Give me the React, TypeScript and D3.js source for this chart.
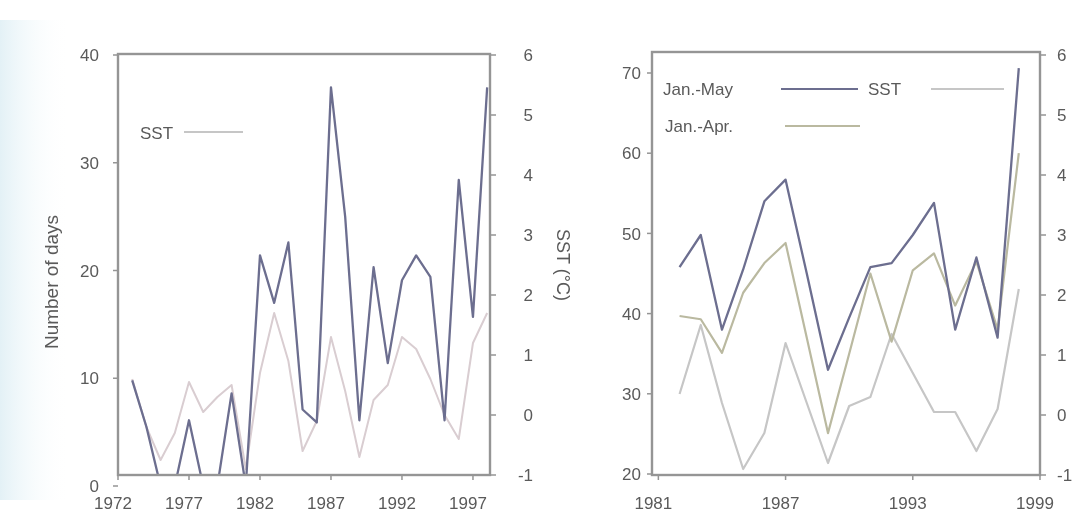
import React from "react";
import * as d3 from "d3";

// ---------- Data ----------
const leftYears = [1973, 1974, 1975, 1976, 1977, 1978, 1979, 1980, 1981, 1982, 1983, 1984, 1985, 1986, 1987, 1988, 1989, 1990, 1991, 1992, 1993, 1994, 1995, 1996, 1997, 1998];
const leftDays = [9.8, 5.5, 0, 0, 6.1, 0, 0, 8.6, 0, 21.4, 17.0, 22.6, 7.1, 5.9, 37.0, 25.0, 6.1, 20.3, 11.4, 19.1, 21.4, 19.4, 6.1, 28.4, 15.7, 37.0];
const leftSST = [0.6, -0.2, -0.75, -0.3, 0.55, 0.05, 0.3, 0.5, -0.9, 0.7, 1.7, 0.9, -0.6, -0.1, 1.3, 0.4, -0.7, 0.25, 0.5, 1.3, 1.1, 0.6, 0.0, -0.4, 1.2, 1.7];

const rightYears = [1982, 1983, 1984, 1985, 1986, 1987, 1988, 1989, 1990, 1991, 1992, 1993, 1994, 1995, 1996, 1997, 1998];
const janMay = [45.8, 49.8, 38.0, 45.5, 54.0, 56.7, 45.0, 33.0, 39.5, 45.8, 46.3, 49.8, 53.8, 38.0, 47.0, 37.0, 70.6];
const janApr = [39.7, 39.3, 35.1, 42.6, 46.3, 48.8, 37.0, 25.1, 35.0, 45.0, 36.5, 45.4, 47.5, 41.0, 46.5, 38.0, 60.0];
const rightSST = [0.35, 1.5, 0.2, -0.9, -0.3, 1.2, 0.2, -0.8, 0.15, 0.3, 1.35, 0.7, 0.05, 0.05, -0.6, 0.1, 2.1];

const leftXTicks = [1972, 1977, 1982, 1987, 1992, 1997];
const leftYTicks = [0, 10, 20, 30, 40];
const sstTicks = [-1, 0, 1, 2, 3, 4, 5, 6];
const rightXTicks = [1981, 1987, 1993, 1999];
const rightYTicks = [20, 30, 40, 50, 60, 70];

// ---------- Styles ----------
const FONT = "'Liberation Sans', Arial, sans-serif";
const TXT = "#5a5a5a";
const FRAME = "#959595";
const DARK = "#6c6e8f";
const SSTL = "#d9cdd1";
const SSTR = "#c6c6c6";
const APR = "#bab9a0";

type Pt = [number, number];

function Panel(props: {
  x0: number; x1: number; y0: number; y1: number;
  xDomain: [number, number]; yDomain: [number, number]; yRange: [number, number];
  xTicks: number[]; yTicks: number[];
  leftLabelX: number; rightLabelX: number; rightAnchor: string;
  children: (x: d3.ScaleLinear<number, number>, yL: d3.ScaleLinear<number, number>, yR: d3.ScaleLinear<number, number>) => React.ReactNode;
  id: string;
}) {
  const { x0, x1, y0, y1 } = props;
  const x = d3.scaleLinear().domain(props.xDomain).range([x0, x1]);
  const yL = d3.scaleLinear().domain(props.yDomain).range(props.yRange);
  const yR = d3.scaleLinear().domain([-1, 6]).range([475, 55]);
  return (
    <g>
      <defs>
        <clipPath id={props.id}>
          <rect x={x0} y={y0} width={x1 - x0} height={y1 - y0} />
        </clipPath>
      </defs>
      <g clipPath={`url(#${props.id})`}>{props.children(x, yL, yR)}</g>
      <rect x={x0} y={y0} width={x1 - x0} height={y1 - y0} fill="none" stroke={FRAME} strokeWidth={2.4} />
      {props.yTicks.map((t) => (
        <g key={"l" + t}>
          <line x1={x0 - 5} x2={x0} y1={yL(t)} y2={yL(t)} stroke={FRAME} strokeWidth={1.5} />
          <text x={props.leftLabelX} y={yL(t)} dy="0.36em" textAnchor="end" fontSize={17} fill={TXT} fontFamily={FONT}>{t}</text>
        </g>
      ))}
      {sstTicks.map((t) => (
        <g key={"r" + t}>
          <line x1={x1} x2={x1 + 6} y1={yR(t)} y2={yR(t)} stroke={FRAME} strokeWidth={1.5} />
          <text x={props.rightLabelX} y={yR(t)} dy="0.36em" textAnchor={props.rightAnchor} fontSize={17} fill={TXT} fontFamily={FONT}>{t}</text>
        </g>
      ))}
      {props.xTicks.map((t) => (
        <g key={"x" + t}>
          <line x1={x(t)} x2={x(t)} y1={y1} y2={y1 + 5} stroke={FRAME} strokeWidth={1.5} />
          <text x={x(t) - 5} y={509} textAnchor="middle" fontSize={17} fill={TXT} fontFamily={FONT}>{t}</text>
        </g>
      ))}
    </g>
  );
}

export default function App() {
  const line = (xs: d3.ScaleLinear<number, number>, ys: d3.ScaleLinear<number, number>, years: number[], vals: number[]) =>
    d3.line<Pt>().x((d) => xs(d[0])).y((d) => ys(d[1]))(years.map((yr, i) => [yr, vals[i]] as Pt)) || "";

  return (
    <svg width={1074} height={519} style={{ position: "absolute", left: 0, top: 0, background: "#fff" }} fontFamily={FONT}>
      <defs>
        <linearGradient id="tint" x1="0" x2="1" y1="0" y2="0">
          <stop offset="0" stopColor="#e3f1f6" />
          <stop offset="1" stopColor="#ffffff" stopOpacity={0} />
        </linearGradient>
        <filter id="soft" x="-5%" y="-5%" width="110%" height="110%">
          <feGaussianBlur stdDeviation={0.55} />
        </filter>
      </defs>
      <rect x={0} y={0} width={1074} height={519} fill="#fff" />
      <rect x={0} y={20} width={70} height={480} fill="url(#tint)" />
      <g filter="url(#soft)">
        {/* Left panel */}
        <Panel id="clipL" x0={118} x1={490} y0={54} y1={475}
          xDomain={[1972, 1998.2]} yDomain={[0, 40]} yRange={[486, 55]}
          xTicks={leftXTicks} yTicks={leftYTicks}
          leftLabelX={99} rightLabelX={533} rightAnchor="end">
          {(x, yL, yR) => (
            <g fill="none" strokeLinejoin="round">
              <path d={line(x, yR, leftYears, leftSST)} stroke={SSTL} strokeWidth={2} />
              <path d={line(x, yL, leftYears, leftDays)} stroke={DARK} strokeWidth={2.3} />
            </g>
          )}
        </Panel>
        <text x={140} y={139} fontSize={17} fill={TXT}>SST</text>
        <line x1={184} x2={243} y1={132} y2={132} stroke={SSTR} strokeWidth={2} />
        <text transform="translate(58,282) rotate(-90)" textAnchor="middle" fontSize={19} fill={TXT}>Number of days</text>
        <text transform="translate(557,265) rotate(90)" textAnchor="middle" fontSize={18} fill={TXT}>SST (°C)</text>

        {/* Right panel */}
        <Panel id="clipR" x0={652} x1={1040} y0={52} y1={475}
          xDomain={[1980.7, 1999]} yDomain={[20, 70]} yRange={[474, 73]}
          xTicks={rightXTicks} yTicks={rightYTicks}
          leftLabelX={641} rightLabelX={1057} rightAnchor="start">
          {(x, yL, yR) => (
            <g fill="none" strokeLinejoin="round">
              <path d={line(x, yR, rightYears, rightSST)} stroke={SSTR} strokeWidth={2.2} />
              <path d={line(x, yL, rightYears, janApr)} stroke={APR} strokeWidth={2.2} />
              <path d={line(x, yL, rightYears, janMay)} stroke={DARK} strokeWidth={2.3} />
            </g>
          )}
        </Panel>
        <text x={663} y={95} fontSize={17} fill={TXT}>Jan.-May</text>
        <line x1={781} x2={858} y1={89} y2={89} stroke={DARK} strokeWidth={2} />
        <text x={868} y={95} fontSize={17} fill={TXT}>SST</text>
        <line x1={931} x2={1004} y1={89} y2={89} stroke={SSTR} strokeWidth={2} />
        <text x={665} y={132} fontSize={17} fill={TXT}>Jan.-Apr.</text>
        <line x1={785} x2={860} y1={126} y2={126} stroke={APR} strokeWidth={2} />
      </g>
    </svg>
  );
}
